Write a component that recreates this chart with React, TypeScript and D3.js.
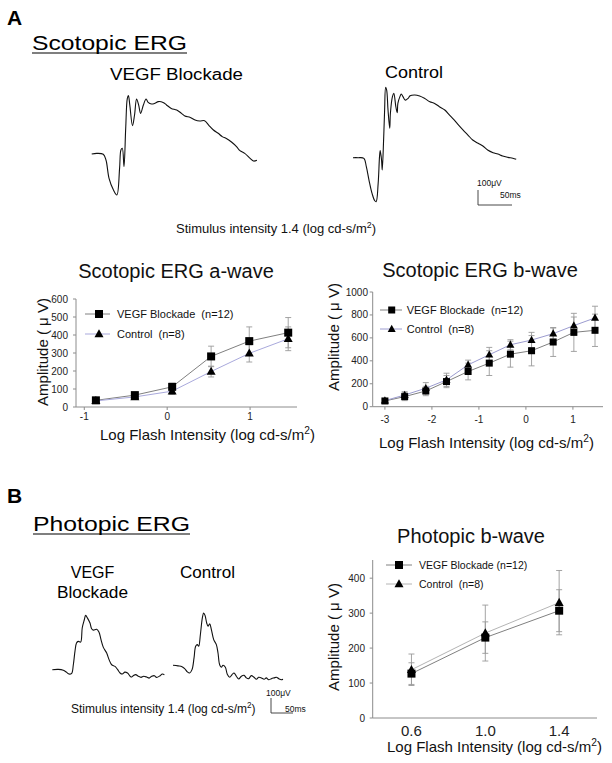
import * as d3 from "d3";

const FONT = "'Liberation Sans', Arial, Helvetica, sans-serif";

// ---- dose-response data (log cd-s/m2, µV) ----
const aWaveX = [-0.86, -0.39, 0.06, 0.53, 0.99, 1.46];
const aWaveVegf = [37, 66, 112, 281, 366, 413];
const aWaveVegfErr = [12, 14, 20, 57, 79, 84];
const aWaveCtrl = [34, 56, 88, 197, 298, 379];
const aWaveCtrlErr = [10, 12, 18, 30, 48, 66];

const bWaveX = [-3, -2.58, -2.13, -1.69, -1.23, -0.78, -0.33, 0.12, 0.58, 1.02, 1.47];
const bWaveVegf = [50, 88, 137, 219, 307, 380, 458, 488, 564, 648, 666];
const bWaveVegfErr = [12, 35, 41, 53, 73, 108, 113, 132, 126, 166, 141];
const bWaveCtrl = [53, 102, 161, 234, 365, 453, 540, 581, 637, 707, 774];
const bWaveCtrlErr = [12, 29, 49, 58, 41, 64, 44, 67, 49, 75, 102];

const photX = [0.6, 1.0, 1.4];
const photVegf = [127, 230, 307];
const photVegfErr = [31, 45, 60];
const photCtrl = [138, 243, 330];
const photCtrlErr = [45, 80, 92];

// ---- representative ERG traces [ms, µV] ----
const scotVegfTrace: [number, number][] = [
  [0, 0], [7.4, 4], [17, -2], [21, -40], [25.5, -162], [32, -240], [37, -273], [41, -96],
  [43, 27], [45, 38], [47.5, -84], [50, 171], [52.4, 371], [54, 389], [56, 327], [60, 189],
  [63, 260], [66, 367], [69, 327], [72, 271], [76, 327], [80, 367], [83, 344], [88, 333],
  [93, 338], [98, 349], [105, 344], [110, 327], [117, 304], [125, 293], [132, 271], [137, 253],
  [145, 244], [152, 227], [159, 220], [166, 222], [172, 193], [179, 160], [186, 138], [192, 116],
  [198, 104], [206, 78], [213, 49], [218, 22], [225, 4], [233, -29], [238, -47], [243, -42],
];
const scotCtrlTrace: [number, number][] = [
  [0, 0], [7.4, 0], [16, -4], [19.6, -60], [23.5, -149], [28, -238], [32, -287], [34, -293],
  [37, -171], [39, 7], [40, 47], [42, -16], [43, -82], [45, 118], [46.5, 318], [48, 469],
  [49.5, 451], [51.5, 318], [54, 196], [55, 296], [58, 407], [60, 429], [63, 340], [65, 300],
  [66, 362], [69, 407], [71, 424], [73.5, 407], [77, 384], [81, 396], [84, 413], [91, 418],
  [98, 411], [105, 396], [113, 373], [120, 362], [127, 340], [135, 318], [142, 284], [148, 256],
  [154, 224], [162, 184], [169, 151], [176, 118], [184, 96], [191, 78], [198, 51], [206, 33],
  [213, 24], [220, 11], [228, 2], [235, -4], [240, -11],
];
const photVegfTrace: [number, number][] = [
  [0, 0], [13.6, 2], [25, -4], [32.6, -18], [38, -29], [44, -24], [47.8, 33], [51.5, 122],
  [55, 178], [59, 189], [64.4, 184], [68, 278], [72.8, 333], [75.8, 362], [80, 344], [85.7, 311],
  [89.4, 273], [93, 264], [100.8, 269], [106, 251], [110.7, 200], [116, 149], [123.6, 111],
  [129, 67], [135, 33], [142.5, 22], [148.6, 0], [154, -22], [159, -29], [165, -16], [171, -22],
  [179, -49], [184, -40], [189.5, -33], [195.6, -44], [201.6, -51], [207.7, -44], [214.5, -49],
  [220, -56], [226, -44], [232, -40], [237, -51], [245, -40], [250, -29], [254.7, -33],
];
const photCtrlTrace: [number, number][] = [
  [0, 0], [11.4, -4], [20.5, -9], [26.5, -22], [32.6, -44], [37.9, -51], [43.2, -29], [47.8, 49],
  [51.5, 127], [55.3, 138], [58.4, 127], [62.2, 204], [66.7, 316], [69.7, 349], [72.8, 333],
  [76.6, 282], [79.6, 260], [83.4, 276], [87.2, 238], [92.5, 171], [98.5, 138], [102.3, 82],
  [106, 4], [110, -13], [113.7, 0], [119, -13], [123.6, -62], [128.9, -80], [134.2, -62],
  [138.7, -51], [144, -73], [149.3, -91], [155.4, -73], [161.5, -67], [166.8, -84], [172, -89],
  [178, -69], [184, -80], [189.5, -93], [194.8, -80], [200.9, -84], [207, -93], [212, -84],
  [217.5, -96], [223.6, -89], [229.7, -84], [235, -80], [240.3, -89], [246, -96], [250, -93],
];

const VEGF_LINE = "#808080";
const ERR = "#9a9a9a";
const AXIS = "#8c8c8c";

function Square({ x, y, s }: { x: number; y: number; s: number }) {
  return <rect x={x - s / 2} y={y - s / 2} width={s} height={s} fill="#000" />;
}
function Tri({ x, y, s }: { x: number; y: number; s: number }) {
  const h = s * 0.9;
  return (
    <path
      d={`M${x},${y - h * 0.6}L${x + s / 2},${y + h * 0.4}L${x - s / 2},${y + h * 0.4}Z`}
      fill="#000"
    />
  );
}

function LogLabel({ x, y, size }: { x: number; y: number; size: number }) {
  return (
    <text x={x} y={y} fontSize={size} fill="#111">
      Log Flash Intensity (log cd-s/m
      <tspan dy={-size * 0.38} fontSize={size * 0.68}>2</tspan>
      <tspan dy={size * 0.38}>)</tspan>
    </text>
  );
}

interface PanelProps {
  xs: number[];
  vegf: number[];
  vegfErr: number[];
  ctrl: number[];
  ctrlErr: number[];
  xDomain: [number, number];
  yDomain: [number, number];
  xRange: [number, number];
  yRange: [number, number];
  xTicks: number[];
  yTicks: number[];
  xFmt: (v: number) => string;
  ctrlColor: string;
  marker: number;
  xTickY: number;
  xTickSize: number;
  yTickX: number;
  legend: { x1: number; x2: number; mx: number; y1: number; y2: number; tx: number; size: number; vegfText: string; ctrlText: string };
  ylab: { x: number; y: number };
  xlab: { x: number; y: number; size: number };
  title: { text: string; x: number; y: number };
  showXTickMarks?: boolean;
}

function DosePanel(p: PanelProps) {
  const x = d3.scaleLinear().domain(p.xDomain).range(p.xRange);
  const y = d3.scaleLinear().domain(p.yDomain).range(p.yRange);
  const line = d3
    .line<number>()
    .x((_, i) => x(p.xs[i]))
    .y((d) => y(d));
  const cap = 3;
  const bars = (vals: number[], errs: number[]) =>
    vals.map((v, i) => {
      const cx = x(p.xs[i]);
      const top = y(v + errs[i]);
      const bot = y(Math.max(0, v - errs[i]));
      return (
        <g key={i} stroke={ERR} strokeWidth={0.9}>
          <line x1={cx} x2={cx} y1={top} y2={bot} />
          <line x1={cx - cap} x2={cx + cap} y1={top} y2={top} />
          <line x1={cx - cap} x2={cx + cap} y1={bot} y2={bot} />
        </g>
      );
    });
  const L = p.legend;
  return (
    <g>
      <text x={p.title.x} y={p.title.y} fontSize={20} textAnchor="middle" fill="#111">
        {p.title.text}
      </text>
      {/* axes */}
      <line x1={p.xRange[0]} x2={p.xRange[0]} y1={p.yRange[0]} y2={p.yRange[1]} stroke={AXIS} strokeWidth={1} />
      <line x1={p.xRange[0]} x2={p.xRange[1]} y1={p.yRange[0]} y2={p.yRange[0]} stroke={AXIS} strokeWidth={1} />
      {p.yTicks.map((t) => (
        <g key={"y" + t}>
          <line x1={p.xRange[0] - 3} x2={p.xRange[0]} y1={y(t)} y2={y(t)} stroke={AXIS} />
          <text x={p.yTickX} y={y(t) + 3.5} fontSize={10} textAnchor="end" fill="#222">
            {t}
          </text>
        </g>
      ))}
      {p.xTicks.map((t) => (
        <g key={"x" + t}>
          {p.showXTickMarks !== false && (
            <line x1={x(t)} x2={x(t)} y1={p.yRange[0]} y2={p.yRange[0] + 3} stroke={AXIS} />
          )}
          <text x={x(t)} y={p.xTickY} fontSize={p.xTickSize} textAnchor="middle" fill="#222">
            {p.xFmt(t)}
          </text>
        </g>
      ))}
      {bars(p.vegf, p.vegfErr)}
      {bars(p.ctrl, p.ctrlErr)}
      <path d={line(p.vegf) ?? ""} fill="none" stroke={VEGF_LINE} strokeWidth={1} />
      <path d={line(p.ctrl) ?? ""} fill="none" stroke={p.ctrlColor} strokeWidth={1} />
      {p.vegf.map((v, i) => (
        <Square key={"s" + i} x={x(p.xs[i])} y={y(v)} s={p.marker} />
      ))}
      {p.ctrl.map((v, i) => (
        <Tri key={"t" + i} x={x(p.xs[i])} y={y(v)} s={p.marker + 1} />
      ))}
      {/* legend */}
      <line x1={L.x1} x2={L.x2} y1={L.y1} y2={L.y1} stroke={VEGF_LINE} />
      <Square x={L.mx} y={L.y1} s={p.marker} />
      <text x={L.tx} y={L.y1 + 4} fontSize={L.size} fill="#111" style={{ whiteSpace: "pre" }}>
        {L.vegfText}
      </text>
      <line x1={L.x1} x2={L.x2} y1={L.y2} y2={L.y2} stroke={p.ctrlColor} />
      <Tri x={L.mx} y={L.y2} s={p.marker + 1} />
      <text x={L.tx} y={L.y2 + 4} fontSize={L.size} fill="#111" style={{ whiteSpace: "pre" }}>
        {L.ctrlText}
      </text>
      <text
        transform={`translate(${p.ylab.x},${p.ylab.y}) rotate(-90)`}
        fontSize={15}
        textAnchor="middle"
        fill="#111"
      >
        Amplitude ( μ V)
      </text>
      <LogLabel x={p.xlab.x} y={p.xlab.y} size={p.xlab.size} />
    </g>
  );
}

function Trace({ data, x0, y0, pxPerMs, pxPerUv }: { data: [number, number][]; x0: number; y0: number; pxPerMs: number; pxPerUv: number }) {
  const x = d3.scaleLinear().domain([0, 100]).range([x0, x0 + 100 * pxPerMs]);
  const y = d3.scaleLinear().domain([0, 100]).range([y0, y0 - 100 * pxPerUv]);
  const line = d3
    .line<[number, number]>()
    .x((d) => x(d[0]))
    .y((d) => y(d[1]))
    .curve(d3.curveCatmullRom);
  return <path d={line(data) ?? ""} fill="none" stroke="#111" strokeWidth={1.1} />;
}

function ScaleBar({ x0, y0, pxPerMs, pxPerUv, size, uvX, uvY, msX, msY }: { x0: number; y0: number; pxPerMs: number; pxPerUv: number; size: number; uvX: number; uvY: number; msX: number; msY: number }) {
  const w = 50 * pxPerMs;
  const h = 100 * pxPerUv;
  return (
    <g>
      <path d={`M${x0},${y0 - h}V${y0}H${x0 + w}`} fill="none" stroke="#333" strokeWidth={0.9} />
      <text x={uvX} y={uvY} fontSize={size} fill="#111">100μV</text>
      <text x={msX} y={msY} fontSize={size} fill="#111">50ms</text>
    </g>
  );
}

function Stim({ x, y, size }: { x: number; y: number; size: number }) {
  return (
    <text x={x} y={y} fontSize={size} fill="#111">
      Stimulus intensity 1.4 (log cd-s/m
      <tspan dy={-size * 0.38} fontSize={size * 0.68}>2</tspan>
      <tspan dy={size * 0.38}>)</tspan>
    </text>
  );
}

const SCOT_MS = 0.68;
const SCOT_UV = 0.15;
const PHOT_MS = 0.44;
const PHOT_UV = 0.15;

export default function App() {
  return (
    <svg
      width={612}
      height={763}
      fontFamily={FONT}
      style={{ position: "absolute", left: 0, top: 0, background: "#fff" }}
    >
      <rect width={612} height={763} fill="#fff" />

      {/* ---- Panel A ---- */}
      <text x={7} y={25} fontSize={21} fontWeight="bold">A</text>
      <text x={32} y={50} fontSize={21} textLength={155} lengthAdjust="spacingAndGlyphs">Scotopic ERG</text>
      <line x1={32} x2={187} y1={53} y2={53} stroke="#000" strokeWidth={1.2} />
      <text x={110} y={80} fontSize={16} textLength={133} lengthAdjust="spacingAndGlyphs">VEGF Blockade</text>
      <text x={385} y={78} fontSize={16} textLength={58} lengthAdjust="spacingAndGlyphs">Control</text>

      <Trace data={scotVegfTrace} x0={91.7} y0={154} pxPerMs={SCOT_MS} pxPerUv={SCOT_UV} />
      <Trace data={scotCtrlTrace} x0={353} y0={157.7} pxPerMs={SCOT_MS} pxPerUv={SCOT_UV} />
      <ScaleBar x0={478} y0={205} pxPerMs={SCOT_MS} pxPerUv={SCOT_UV} size={8.5} uvX={477} uvY={186} msX={500} msY={198} />
      <Stim x={176} y={233} size={13} />

      <DosePanel
        xs={aWaveX}
        vegf={aWaveVegf}
        vegfErr={aWaveVegfErr}
        ctrl={aWaveCtrl}
        ctrlErr={aWaveCtrlErr}
        xDomain={[-1.1, 1.566]}
        yDomain={[0, 600]}
        xRange={[76, 297]}
        yRange={[407, 299]}
        xTicks={[-1, 0, 1]}
        yTicks={[0, 100, 200, 300, 400, 500, 600]}
        xFmt={(v) => String(v)}
        ctrlColor="#a9a9dc"
        marker={8}
        xTickY={420}
        xTickSize={10}
        yTickX={68}
        legend={{ x1: 85, x2: 110, mx: 99, y1: 314, y2: 334, tx: 117, size: 11, vegfText: "VEGF Blockade  (n=12)", ctrlText: "Control  (n=8)" }}
        ylab={{ x: 48, y: 352 }}
        xlab={{ x: 100, y: 440, size: 15 }}
        title={{ text: "Scotopic ERG a-wave", x: 176, y: 278 }}
      />
      <DosePanel
        xs={bWaveX}
        vegf={bWaveVegf}
        vegfErr={bWaveVegfErr}
        ctrl={bWaveCtrl}
        ctrlErr={bWaveCtrlErr}
        xDomain={[-3.26, 1.64]}
        yDomain={[0, 1000]}
        xRange={[372.7, 603]}
        yRange={[406.7, 292]}
        xTicks={[-3, -2, -1, 0, 1]}
        yTicks={[0, 200, 400, 600, 800, 1000]}
        xFmt={(v) => String(v)}
        ctrlColor="#9c9cd0"
        marker={7}
        xTickY={423}
        xTickSize={10}
        yTickX={368}
        legend={{ x1: 380, x2: 402, mx: 391.7, y1: 310, y2: 329, tx: 406.7, size: 11, vegfText: "VEGF Blockade  (n=12)", ctrlText: "Control  (n=8)" }}
        ylab={{ x: 339, y: 337 }}
        xlab={{ x: 379, y: 448, size: 15 }}
        title={{ text: "Scotopic ERG b-wave", x: 480, y: 277 }}
      />

      {/* ---- Panel B ---- */}
      <text x={7} y={503} fontSize={21} fontWeight="bold">B</text>
      <text x={33} y={531} fontSize={21} textLength={157} lengthAdjust="spacingAndGlyphs">Photopic ERG</text>
      <line x1={33} x2={190} y1={534} y2={534} stroke="#000" strokeWidth={1.2} />
      <text x={92.5} y={578} fontSize={16} textAnchor="middle">VEGF</text>
      <text x={92.5} y={598} fontSize={16} textAnchor="middle" textLength={71} lengthAdjust="spacingAndGlyphs">Blockade</text>
      <text x={180} y={578} fontSize={16} textLength={55} lengthAdjust="spacingAndGlyphs">Control</text>

      <Trace data={photVegfTrace} x0={52.3} y0={669.7} pxPerMs={PHOT_MS} pxPerUv={PHOT_UV} />
      <Trace data={photCtrlTrace} x0={173} y0={665.3} pxPerMs={PHOT_MS} pxPerUv={PHOT_UV} />
      <ScaleBar x0={271} y0={713} pxPerMs={PHOT_MS} pxPerUv={PHOT_UV} size={8.5} uvX={266} uvY={696} msX={285} msY={712} />
      <Stim x={71} y={713} size={12} />

      <DosePanel
        xs={photX}
        vegf={photVegf}
        vegfErr={photVegfErr}
        ctrl={photCtrl}
        ctrlErr={photCtrlErr}
        xDomain={[0.39, 1.605]}
        yDomain={[0, 452]}
        xRange={[372.7, 597]}
        yRange={[718, 560]}
        xTicks={[0.6, 1.0, 1.4]}
        yTicks={[0, 100, 200, 300, 400]}
        xFmt={(v) => v.toFixed(1)}
        ctrlColor="#b4b4b4"
        marker={8}
        xTickY={736}
        xTickSize={15}
        yTickX={365}
        legend={{ x1: 386, x2: 412, mx: 399, y1: 565, y2: 584, tx: 419, size: 10.5, vegfText: "VEGF Blockade (n=12)", ctrlText: "Control  (n=8)" }}
        ylab={{ x: 339, y: 637 }}
        xlab={{ x: 387, y: 752, size: 15 }}
        title={{ text: "Photopic b-wave", x: 471, y: 543 }}
        showXTickMarks={false}
      />
    </svg>
  );
}
